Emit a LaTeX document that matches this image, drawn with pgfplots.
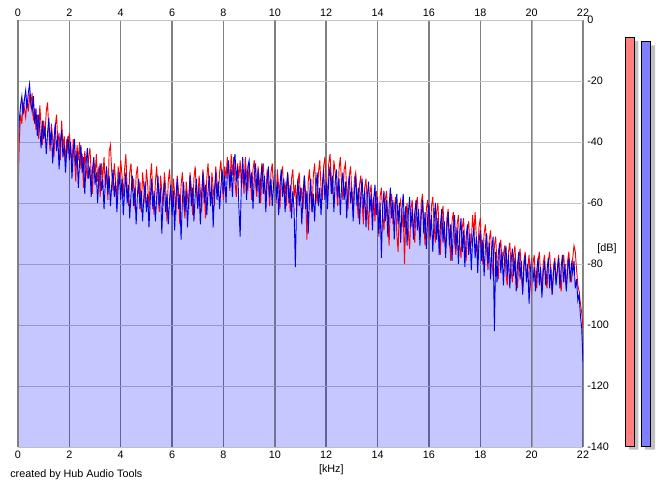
\documentclass[border=0pt]{standalone}
\usepackage{pgfplots}
\pgfplotsset{compat=1.18}
\usepackage{pgfplotstable}
\usepgfplotslibrary{fillbetween}
\usepackage{fontspec}
\setmainfont{Liberation Sans}
\definecolor{gridv}{RGB}{128,128,128}
\definecolor{gridh}{RGB}{196,196,196}
\definecolor{lineblue}{RGB}{0,0,230}
\definecolor{linered}{RGB}{255,0,0}
\definecolor{meterred}{RGB}{255,128,128}
\definecolor{meterblue}{RGB}{128,128,255}
\definecolor{shadow}{RGB}{192,192,192}

\pgfplotstableread{
f b r
0.00 -45 -57
0.05 -33 -40
0.10 -28 -31
0.15 -25 -34
0.20 -31 -27
0.25 -26 -29
0.30 -23 -32
0.35 -29 -26
0.40 -24 -30
0.45 -21 -25
0.50 -27 -28
0.55 -30 -24
0.60 -25 -33
0.65 -34 -29
0.70 -29 -36
0.75 -38 -31
0.80 -31 -39
0.85 -36 -28
0.90 -42 -35
0.95 -33 -41
1.00 -39 -33
1.05 -35 -38
1.10 -44 -30
1.15 -37 -27
1.20 -32 -36
1.25 -41 -43
1.30 -36 -34
1.35 -47 -39
1.40 -39 -45
1.45 -34 -35
1.50 -43 -31
1.55 -38 -40
1.60 -49 -37
1.65 -40 -46
1.70 -36 -33
1.75 -45 -42
1.80 -41 -38
1.85 -50 -47
1.90 -42 -39
1.95 -38 -44
2.00 -46 -37
2.05 -40 -42
2.10 -52 -48
2.15 -44 -39
2.20 -39 -45
2.25 -48 -53
2.30 -43 -41
2.35 -55 -46
2.40 -46 -40
2.45 -41 -49
2.50 -50 -44
2.55 -45 -55
2.60 -57 -43
2.65 -47 -48
2.70 -42 -52
2.75 -52 -45
2.80 -48 -42
2.85 -58 -50
2.90 -49 -57
2.95 -45 -46
3.00 -54 -51
3.05 -50 -44
3.10 -60 -53
3.15 -51 -48
3.20 -47 -58
3.25 -56 -47
3.30 -52 -52
3.35 -62 -45
3.40 -53 -55
3.45 -48 -49
3.50 -57 -59
3.55 -51 -43
3.60 -61 -41
3.65 -54 -50
3.70 -49 -56
3.75 -58 -47
3.80 -53 -53
3.85 -63 -60
3.90 -55 -48
3.95 -50 -54
4.00 -59 -46
4.05 -52 -51
4.10 -64 -58
4.15 -56 -49
4.20 -50 -44
4.25 -60 -55
4.30 -54 -61
4.35 -65 -50
4.40 -57 -47
4.45 -51 -56
4.50 -61 -52
4.55 -55 -62
4.60 -67 -51
4.65 -57 -48
4.70 -52 -57
4.75 -62 -53
4.80 -56 -63
4.85 -66 -50
4.90 -58 -55
4.95 -53 -60
5.00 -63 -49
5.05 -57 -54
5.10 -68 -62
5.15 -59 -52
5.20 -52 -47
5.25 -62 -58
5.30 -56 -64
5.35 -66 -53
5.40 -58 -48
5.45 -51 -57
5.50 -61 -63
5.55 -55 -51
5.60 -70 -56
5.65 -58 -61
5.70 -53 -50
5.75 -63 -55
5.80 -57 -66
5.85 -67 -53
5.90 -59 -49
5.95 -54 -58
6.00 -64 -62
6.05 -56 -52
6.10 -69 -57
6.15 -58 -64
6.20 -52 -51
6.25 -62 -56
6.30 -57 -67
6.35 -72 -54
6.40 -59 -50
6.45 -53 -60
6.50 -63 -65
6.55 -56 -53
6.60 -68 -58
6.65 -58 -62
6.70 -51 -50
6.75 -61 -55
6.80 -55 -64
6.85 -66 -52
6.90 -57 -48
6.95 -52 -57
7.00 -62 -61
7.05 -55 -51
7.10 -67 -56
7.15 -57 -63
7.20 -50 -49
7.25 -60 -54
7.30 -54 -65
7.35 -64 -52
7.40 -56 -47
7.45 -51 -56
7.50 -61 -60
7.55 -54 -50
7.60 -68 -55
7.65 -56 -61
7.70 -50 -48
7.75 -59 -53
7.80 -53 -58
7.85 -62 -50
7.90 -55 -46
7.95 -49 -54
8.00 -57 -59
8.05 -51 -48
8.10 -60 -52
8.15 -50 -45
8.20 -46 -50
8.25 -55 -56
8.30 -49 -44
8.35 -58 -51
8.40 -47 -45
8.45 -44 -53
8.50 -53 -58
8.55 -48 -47
8.60 -61 -52
8.65 -71 -46
8.70 -52 -55
8.75 -45 -49
8.80 -54 -57
8.85 -49 -45
8.90 -59 -51
8.95 -48 -56
9.00 -46 -47
9.05 -55 -52
9.10 -50 -59
9.15 -62 -49
9.20 -51 -46
9.25 -47 -54
9.30 -56 -58
9.35 -49 -48
9.40 -60 -53
9.45 -52 -60
9.50 -47 -50
9.55 -57 -47
9.60 -51 -55
9.65 -63 -59
9.70 -53 -49
9.75 -48 -54
9.80 -58 -61
9.85 -52 -50
9.90 -61 -47
9.95 -54 -56
10.00 -49 -52
10.05 -59 -60
10.10 -53 -49
10.15 -64 -55
10.20 -54 -62
10.25 -49 -51
10.30 -58 -48
10.35 -52 -57
10.40 -63 -53
10.45 -55 -61
10.50 -50 -50
10.55 -60 -56
10.60 -54 -63
10.65 -65 -52
10.70 -56 -49
10.75 -62 -58
10.80 -81 -54
10.85 -58 -64
10.90 -52 -53
10.95 -61 -50
11.00 -55 -59
11.05 -67 -55
11.10 -57 -62
11.15 -51 -51
11.20 -62 -57
11.25 -56 -72
11.30 -70 -53
11.35 -58 -49
11.40 -52 -58
11.45 -63 -63
11.50 -57 -51
11.55 -66 -47
11.60 -55 -56
11.65 -50 -60
11.70 -61 -50
11.75 -55 -46
11.80 -64 -55
11.85 -54 -59
11.90 -49 -48
11.95 -59 -45
12.00 -53 -53
12.05 -62 -58
12.10 -52 -47
12.15 -48 -44
12.20 -57 -52
12.25 -51 -57
12.30 -63 -46
12.35 -53 -50
12.40 -49 -55
12.45 -58 -61
12.50 -52 -49
12.55 -64 -45
12.60 -54 -54
12.65 -50 -59
12.70 -59 -49
12.75 -53 -47
12.80 -65 -56
12.85 -55 -62
12.90 -51 -51
12.95 -60 -48
13.00 -55 -57
13.05 -66 -63
13.10 -56 -52
13.15 -51 -50
13.20 -61 -59
13.25 -55 -65
13.30 -67 -54
13.35 -57 -51
13.40 -52 -60
13.45 -62 -67
13.50 -56 -55
13.55 -68 -52
13.60 -58 -61
13.65 -53 -69
13.70 -63 -57
13.75 -57 -54
13.80 -69 -63
13.85 -59 -58
13.90 -54 -66
13.95 -64 -56
14.00 -58 -60
14.05 -70 -71
14.10 -60 -58
14.15 -78 -55
14.20 -61 -64
14.25 -56 -69
14.30 -66 -59
14.35 -59 -56
14.40 -71 -65
14.45 -61 -74
14.50 -55 -60
14.55 -65 -57
14.60 -59 -67
14.65 -72 -62
14.70 -61 -58
14.75 -57 -70
14.80 -67 -76
14.85 -60 -61
14.90 -73 -59
14.95 -62 -68
15.00 -57 -63
15.05 -68 -80
15.10 -61 -64
15.15 -74 -60
15.20 -63 -70
15.25 -58 -75
15.30 -68 -62
15.35 -62 -59
15.40 -72 -69
15.45 -63 -73
15.50 -59 -61
15.55 -69 -58
15.60 -62 -67
15.65 -74 -71
15.70 -64 -60
15.75 -59 -57
15.80 -70 -66
15.85 -63 -74
15.90 -75 -62
15.95 -65 -59
16.00 -60 -68
16.05 -71 -72
16.10 -64 -61
16.15 -76 -58
16.20 -66 -67
16.25 -60 -73
16.30 -72 -63
16.35 -65 -60
16.40 -77 -70
16.45 -67 -77
16.50 -62 -64
16.55 -73 -61
16.60 -66 -71
16.65 -78 -75
16.70 -68 -65
16.75 -63 -62
16.80 -74 -72
16.85 -67 -79
16.90 -79 -66
16.95 -69 -63
17.00 -64 -73
17.05 -75 -77
17.10 -68 -67
17.15 -80 -64
17.20 -70 -74
17.25 -65 -78
17.30 -76 -68
17.35 -69 -65
17.40 -81 -75
17.45 -71 -79
17.50 -67 -69
17.55 -77 -66
17.60 -70 -76
17.65 -82 -73
17.70 -72 -64
17.75 -68 -70
17.80 -78 -63
17.85 -71 -72
17.90 -83 -78
17.95 -73 -68
18.00 -69 -65
18.05 -79 -74
18.10 -72 -80
18.15 -84 -70
18.20 -74 -67
18.25 -70 -76
18.30 -80 -82
18.35 -73 -72
18.40 -85 -69
18.45 -75 -78
18.50 -71 -84
18.55 -102 -74
18.60 -76 -71
18.65 -86 -80
18.70 -77 -85
18.75 -73 -75
18.80 -83 -72
18.85 -76 -81
18.90 -87 -77
18.95 -78 -74
19.00 -74 -83
19.05 -84 -87
19.10 -77 -76
19.15 -88 -73
19.20 -79 -82
19.25 -75 -86
19.30 -84 -77
19.35 -78 -74
19.40 -89 -84
19.45 -80 -88
19.50 -76 -78
19.55 -85 -75
19.60 -79 -83
19.65 -90 -89
19.70 -81 -79
19.75 -77 -76
19.80 -86 -85
19.85 -80 -81
19.90 -93 -77
19.95 -82 -86
20.00 -78 -90
20.05 -86 -80
20.10 -81 -77
20.15 -89 -85
20.20 -82 -88
20.25 -78 -79
20.30 -87 -76
20.35 -81 -84
20.40 -91 -89
20.45 -83 -80
20.50 -79 -77
20.55 -87 -85
20.60 -82 -88
20.65 -78 -79
20.70 -88 -76
20.75 -81 -84
20.80 -90 -90
20.85 -83 -81
20.90 -79 -78
20.95 -87 -86
21.00 -82 -82
21.05 -78 -77
21.10 -88 -85
21.15 -81 -89
21.20 -77 -80
21.25 -86 -77
21.30 -80 -84
21.35 -89 -88
21.40 -82 -79
21.45 -78 -76
21.50 -86 -83
21.55 -80 -86
21.60 -83 -78
21.65 -79 -74
21.70 -88 -76
21.75 -85 -82
21.80 -92 -87
21.85 -90 -89
21.90 -97 -93
21.95 -101 -96
22.00 -112 -101
}\spectrum

\begin{document}
\begin{tikzpicture}
% main spectrum axis
\begin{axis}[
  at={(13.5pt,30pt)}, anchor=south west,
  scale only axis, width=423.75pt, height=320.25pt,
  xmin=0, xmax=22, ymin=-140, ymax=0,
  xtick={0,2,...,22}, xticklabels={0,2,4,6,8,10,12,14,16,18,20,22},
  ytick={0,-20,...,-140}, yticklabels={0,-20,-40,-60,-80,-100,-120,-140},
  yticklabel pos=right, xticklabel pos=lower,
  major tick length=0pt,
  axis line style={draw=none},
  xmajorgrids, ymajorgrids,
  x grid style={gridv, line width=1.1pt},
  y grid style={gridh, line width=0.75pt},
  tick label style={font=\fontsize{8.1}{9.7}\selectfont, text=black, inner sep=0pt},
  xticklabel shift=3pt, yticklabel shift=3pt,
  clip=true,
]
\addplot[draw=none, name path=B, forget plot] table[x=f, y=b] {\spectrum};
\addplot[draw=none, name path=BOT, forget plot] coordinates {(0,-140) (22,-140)};
\addplot[fill=blue, fill opacity=0.22, draw=none] fill between[of=B and BOT];
\addplot[linered, line width=0.7pt, mark=none] table[x=f, y=r] {\spectrum};
\addplot[lineblue, line width=0.7pt, mark=none] table[x=f, y=b] {\spectrum};
% thicker lines at 0,10,20 kHz
\addplot[gridv, line width=1.8pt, forget plot] coordinates {(0,-140) (0,0)};
\addplot[gridv, line width=1.6pt, forget plot, opacity=0.6] coordinates {(10,-140) (10,0)};
\addplot[gridv, line width=1.6pt, forget plot, opacity=0.6] coordinates {(20,-140) (20,0)};
\addplot[gridh, line width=0.75pt, forget plot] coordinates {(22,-140) (22,0)};
\end{axis}
% top tick labels
\begin{axis}[
  at={(13.5pt,30pt)}, anchor=south west,
  scale only axis, width=423.75pt, height=320.25pt,
  xmin=0, xmax=22, ymin=-140, ymax=0,
  xtick={0,2,...,22}, xticklabels={0,2,4,6,8,10,12,14,16,18,20,22},
  ytick=\empty, xticklabel pos=upper,
  major tick length=0pt,
  axis line style={draw=none},
  tick label style={font=\fontsize{8.1}{9.7}\selectfont, text=black, inner sep=0pt},
  xticklabel shift=2.5pt,
]
\addplot[draw=none, forget plot] coordinates {(0,-140) (22,0)};
\end{axis}
% level meters
\begin{axis}[
  at={(465pt,30pt)}, anchor=south west,
  scale only axis, width=30pt, height=320.25pt,
  xmin=620, xmax=660, ymin=-140, ymax=0,
  hide axis, clip=false,
]
\addplot[fill=shadow, draw=none] coordinates {(629,-140.9) (629,-6.9) (638.3,-6.9) (638.3,-140.9) (629,-140.9)};
\addplot[fill=shadow, draw=none] coordinates {(645,-140.9) (645,-8.3) (655,-8.3) (655,-140.9) (645,-140.9)};
\addplot[fill=meterred, draw=black, line width=0.6pt] coordinates {(625,-139.7) (625,-5.6) (634.3,-5.6) (634.3,-139.7) (625,-139.7)};
\addplot[fill=meterblue, draw=black, line width=0.6pt] coordinates {(641.3,-139.7) (641.3,-7.0) (650.7,-7.0) (650.7,-139.7) (641.3,-139.7)};
\end{axis}
\node[font=\fontsize{8.1}{9.7}\selectfont, inner sep=0pt] at (455.25pt,178.5pt) {[dB]};
\node[font=\fontsize{8.1}{9.7}\selectfont, inner sep=0pt] at (248.5pt,12.75pt) {[kHz]};
\node[font=\fontsize{8.1}{9.7}\selectfont, inner sep=0pt, anchor=west] at (7.5pt,9.5pt) {created by Hub Audio Tools};
\path (0,0) rectangle (498.75pt,365.25pt);
\end{tikzpicture}
\end{document}
